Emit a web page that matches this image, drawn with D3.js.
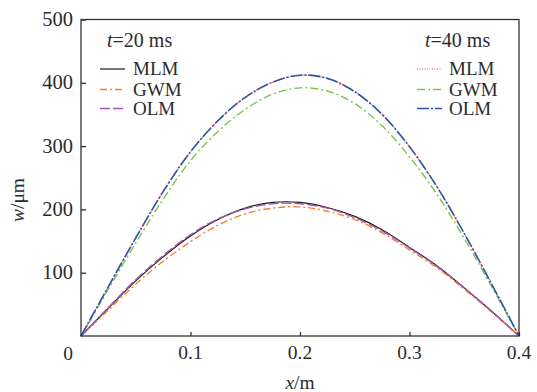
<!DOCTYPE html>
<html>
<head>
<meta charset="utf-8">
<script src="https://cdn.jsdelivr.net/npm/d3@7"></script>
<style>
  body { margin: 0; background: #fff; }
  text { font-family: "Liberation Serif", "DejaVu Serif", serif; fill: #2b2b2b; }
</style>
</head>
<body>
<div class="chart"></div>
<script>
// data
var xs = [0, 0.025, 0.05, 0.075, 0.1, 0.125, 0.15, 0.175, 0.2, 0.225, 0.25, 0.275, 0.3, 0.325, 0.35, 0.375, 0.4];

var mlm20 = [0, 44, 87, 125, 158, 184, 202, 211, 211, 203, 189, 168, 140, 111, 76, 39, 0];
var gwm20 = [0, 41, 82, 118, 149, 175, 193, 202, 204, 197, 184, 163, 136, 108, 74, 38, 0];
var olm20 = [0, 45, 89, 127, 160, 185, 201, 209, 209, 202, 187, 166, 139, 110, 76, 39, 0];

var mlm40 = [0, 78, 155, 228, 291, 340, 377, 401, 412, 407, 386, 350, 299, 236, 162, 82, 0];
var gwm40 = [0, 74, 147, 216, 277, 323, 358, 382, 392, 387, 367, 332, 283, 224, 154, 78, 0];
var olm40 = [0, 78, 155, 228, 291, 340, 377, 401, 412, 407, 386, 350, 299, 236, 162, 82, 0];

var xTicks = [0.1, 0.2, 0.3, 0.4];
var yTicks = [100, 200, 300, 400, 500];

var series = [
  { name: "MLM", values: mlm20, color: "#1a1a1a", dash: null, width: 1.2, group: 0 },
  { name: "GWM", values: gwm20, color: "#f5822a", dash: "7,3,2,3", width: 1.4, group: 0 },
  { name: "OLM", values: olm20, color: "#a455b0", dash: "10,3", width: 1.4, group: 0 },
  { name: "MLM", values: mlm40, color: "#e8413c", dash: "1,1.5", width: 1.2, group: 1 },
  { name: "GWM", values: gwm40, color: "#7cc34c", dash: "8,3,2,3", width: 1.4, group: 1 },
  { name: "OLM", values: olm40, color: "#2b55a8", dash: "12,2,2,2", width: 1.6, group: 1 }
];

var svgWidth = 537, svgHeight = 392;
var plot = { left: 81, right: 519, top: 19.5, bottom: 336 };

var svg = d3.select(".chart").append("svg")
  .attr("width", svgWidth)
  .attr("height", svgHeight);

var xScale = d3.scaleLinear().domain([0, 0.4]).range([plot.left, plot.right]);
var yScale = d3.scaleLinear().domain([0, 500]).range([plot.bottom, plot.top]);

// curves
var line = d3.line()
  .x((d, i) => xScale(xs[i]))
  .y(d => yScale(d))
  .curve(d3.curveCatmullRom.alpha(0.5));

series.forEach(function (s) {
  svg.append("path")
    .datum(s.values)
    .attr("d", line)
    .attr("fill", "none")
    .attr("stroke", s.color)
    .attr("stroke-width", s.width)
    .attr("stroke-dasharray", s.dash);
});

// frame
svg.append("rect")
  .attr("x", plot.left).attr("y", plot.top)
  .attr("width", plot.right - plot.left).attr("height", plot.bottom - plot.top)
  .attr("fill", "none")
  .attr("stroke", "#333")
  .attr("stroke-width", 1.3);

// axes with inward ticks
var xAxis = d3.axisTop(xScale).tickValues(xTicks).tickSize(4).tickFormat("");
svg.append("g")
  .attr("transform", `translate(0, ${plot.bottom})`)
  .call(xAxis)
  .call(g => g.select(".domain").remove())
  .call(g => g.selectAll("line").attr("stroke", "#333").attr("stroke-width", 1.3));

var yAxis = d3.axisRight(yScale).tickValues(yTicks).tickSize(5).tickFormat("");
svg.append("g")
  .attr("transform", `translate(${plot.left}, 0)`)
  .call(yAxis)
  .call(g => g.select(".domain").remove())
  .call(g => g.selectAll("line").attr("stroke", "#333").attr("stroke-width", 1.3));

// tick labels
svg.selectAll(".xlab")
  .data(xTicks)
  .enter()
  .append("text")
  .attr("x", d => xScale(d))
  .attr("y", 359)
  .attr("text-anchor", "middle")
  .attr("font-size", 19.5)
  .text(d => d3.format(".1f")(d));

svg.selectAll(".ylab")
  .data(yTicks)
  .enter()
  .append("text")
  .attr("x", 73)
  .attr("y", d => yScale(d) + 6.5)
  .attr("text-anchor", "end")
  .attr("font-size", 20.5)
  .text(d => d);

svg.append("text")
  .attr("x", 68).attr("y", 359.5)
  .attr("text-anchor", "middle")
  .attr("font-size", 19.5)
  .text("0");

// axis titles
svg.append("text")
  .attr("transform", "translate(24, 200) rotate(-90)")
  .attr("text-anchor", "middle")
  .attr("font-size", 19.5)
  .html('<tspan font-style="italic">w</tspan>/μm');

svg.append("text")
  .attr("x", 300).attr("y", 389)
  .attr("text-anchor", "middle")
  .attr("font-size", 19.5)
  .html('<tspan font-style="italic">x</tspan>/m');

// legends
var legendPos = [
  { title: "20", tx: 107, lx: 100, textX: 133 },
  { title: "40", tx: 425, lx: 417, textX: 449 }
];
var rowY = [75, 95.5, 114.5];

legendPos.forEach(function (p, gi) {
  svg.append("text")
    .attr("x", p.tx).attr("y", 47)
    .attr("font-size", 20)
    .html(`<tspan font-style="italic">t</tspan>=${p.title} ms`);

  series.filter(s => s.group === gi).forEach(function (s, i) {
    svg.append("line")
      .attr("x1", p.lx).attr("x2", p.lx + 25)
      .attr("y1", rowY[i] - 6).attr("y2", rowY[i] - 6)
      .attr("stroke", s.color)
      .attr("stroke-width", s.width)
      .attr("stroke-dasharray", s.dash);
    svg.append("text")
      .attr("x", p.textX).attr("y", rowY[i])
      .attr("font-size", 19)
      .text(s.name);
  });
});
</script>
</body>
</html>
